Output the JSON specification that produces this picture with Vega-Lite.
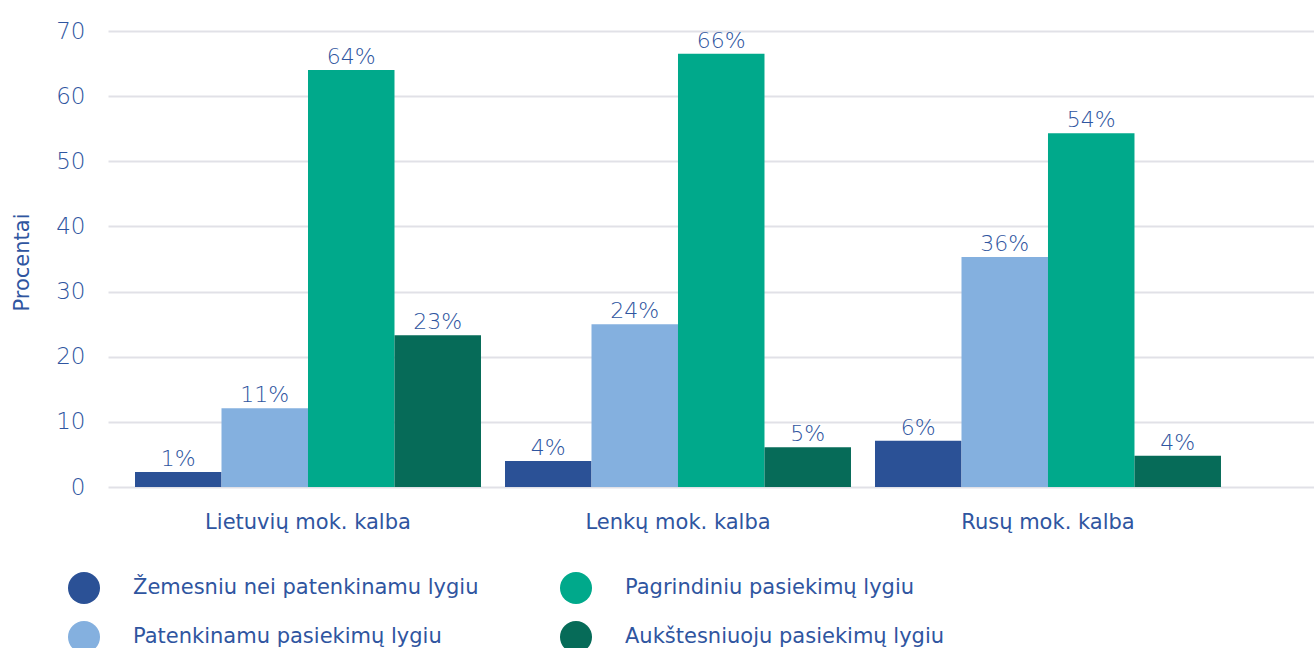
{
  "$schema": "https://vega.github.io/schema/vega-lite/v6.json",
  "width": 1206,
  "height": 456,
  "autosize": {"type": "none"},
  "padding": {"top": 31, "left": 108, "right": 0, "bottom": 161},
  "background": "#ffffff",
  "config": {
    "font": "DejaVu Sans",
    "view": {"stroke": null},
    "axis": {"labelColor": "#2f55a0", "titleColor": "#2f55a0"}
  },
  "data": {
    "values": [
      {"kalba": "Lietuvių mok. kalba", "lygis": "Žemesniu nei patenkinamu lygiu", "reiksme": 2.3, "zyme": "1%"},
      {"kalba": "Lietuvių mok. kalba", "lygis": "Patenkinamu pasiekimų lygiu", "reiksme": 12.1, "zyme": "11%"},
      {"kalba": "Lietuvių mok. kalba", "lygis": "Pagrindiniu pasiekimų lygiu", "reiksme": 64.0, "zyme": "64%"},
      {"kalba": "Lietuvių mok. kalba", "lygis": "Aukštesniuoju pasiekimų lygiu", "reiksme": 23.3, "zyme": "23%"},
      {"kalba": "Lenkų mok. kalba", "lygis": "Žemesniu nei patenkinamu lygiu", "reiksme": 4.0, "zyme": "4%"},
      {"kalba": "Lenkų mok. kalba", "lygis": "Patenkinamu pasiekimų lygiu", "reiksme": 25.0, "zyme": "24%"},
      {"kalba": "Lenkų mok. kalba", "lygis": "Pagrindiniu pasiekimų lygiu", "reiksme": 66.5, "zyme": "66%"},
      {"kalba": "Lenkų mok. kalba", "lygis": "Aukštesniuoju pasiekimų lygiu", "reiksme": 6.1, "zyme": "5%"},
      {"kalba": "Rusų mok. kalba", "lygis": "Žemesniu nei patenkinamu lygiu", "reiksme": 7.1, "zyme": "6%"},
      {"kalba": "Rusų mok. kalba", "lygis": "Patenkinamu pasiekimų lygiu", "reiksme": 35.3, "zyme": "36%"},
      {"kalba": "Rusų mok. kalba", "lygis": "Pagrindiniu pasiekimų lygiu", "reiksme": 54.3, "zyme": "54%"},
      {"kalba": "Rusų mok. kalba", "lygis": "Aukštesniuoju pasiekimų lygiu", "reiksme": 4.8, "zyme": "4%"}
    ]
  },
  "encoding": {
    "x": {
      "field": "kalba", "type": "nominal", "sort": null,
      "scale": {"paddingInner": 0.0649, "paddingOuter": 0.1622, "align": 0.225},
      "axis": {"title": null, "domain": false, "ticks": false, "tickSize": 0, "labelAngle": 0,
               "labelFontSize": 21, "labelPadding": 35, "labelBaseline": "middle", "labelLimit": 400}
    },
    "xOffset": {
      "field": "lygis", "type": "nominal",
      "sort": ["Žemesniu nei patenkinamu lygiu", "Patenkinamu pasiekimų lygiu", "Pagrindiniu pasiekimų lygiu", "Aukštesniuoju pasiekimų lygiu"],
      "scale": {"paddingInner": 0, "paddingOuter": 0}
    },
    "y": {
      "field": "reiksme", "type": "quantitative",
      "scale": {"domain": [0, 70], "nice": false},
      "axis": {
        "title": "Procentai", "titleFontSize": 21, "titleFontWeight": "normal",
        "titleX": -80, "titleY": 231, "titleBaseline": "alphabetic", "titleAngle": -90,
        "values": [0, 10, 20, 30, 40, 50, 60, 70],
        "domain": false, "ticks": false, "tickSize": 0, "labelPadding": 23,
        "labelFontSize": 23, "labelFontWeight": 300,
        "grid": true, "gridColor": "#e1e1e7", "gridWidth": 2
      }
    }
  },
  "layer": [
    {
      "mark": {"type": "bar"},
      "encoding": {
        "color": {
          "field": "lygis", "type": "nominal",
          "scale": {
            "domain": ["Žemesniu nei patenkinamu lygiu", "Patenkinamu pasiekimų lygiu", "Pagrindiniu pasiekimų lygiu", "Aukštesniuoju pasiekimų lygiu"],
            "range": ["#2b5196", "#84b0df", "#00a98b", "#066b58"]
          },
          "legend": {
            "title": null, "orient": "none", "legendX": -40, "legendY": 541,
            "columns": 2, "direction": "horizontal",
            "values": ["Žemesniu nei patenkinamu lygiu", "Pagrindiniu pasiekimų lygiu", "Patenkinamu pasiekimų lygiu", "Aukštesniuoju pasiekimų lygiu"],
            "symbolType": "circle", "symbolSize": 1024, "symbolStrokeWidth": 0, "symbolOpacity": 1,
            "labelFontSize": 21, "labelColor": "#2f55a0", "labelOffset": 33, "labelLimit": 500,
            "rowPadding": 17, "columnPadding": 81, "padding": 0
          }
        }
      }
    },
    {
      "mark": {"type": "text", "baseline": "alphabetic", "dy": -6, "fontSize": 22, "fontWeight": 300, "color": "#2f55a0"},
      "encoding": {"text": {"field": "zyme"}}
    }
  ]
}
